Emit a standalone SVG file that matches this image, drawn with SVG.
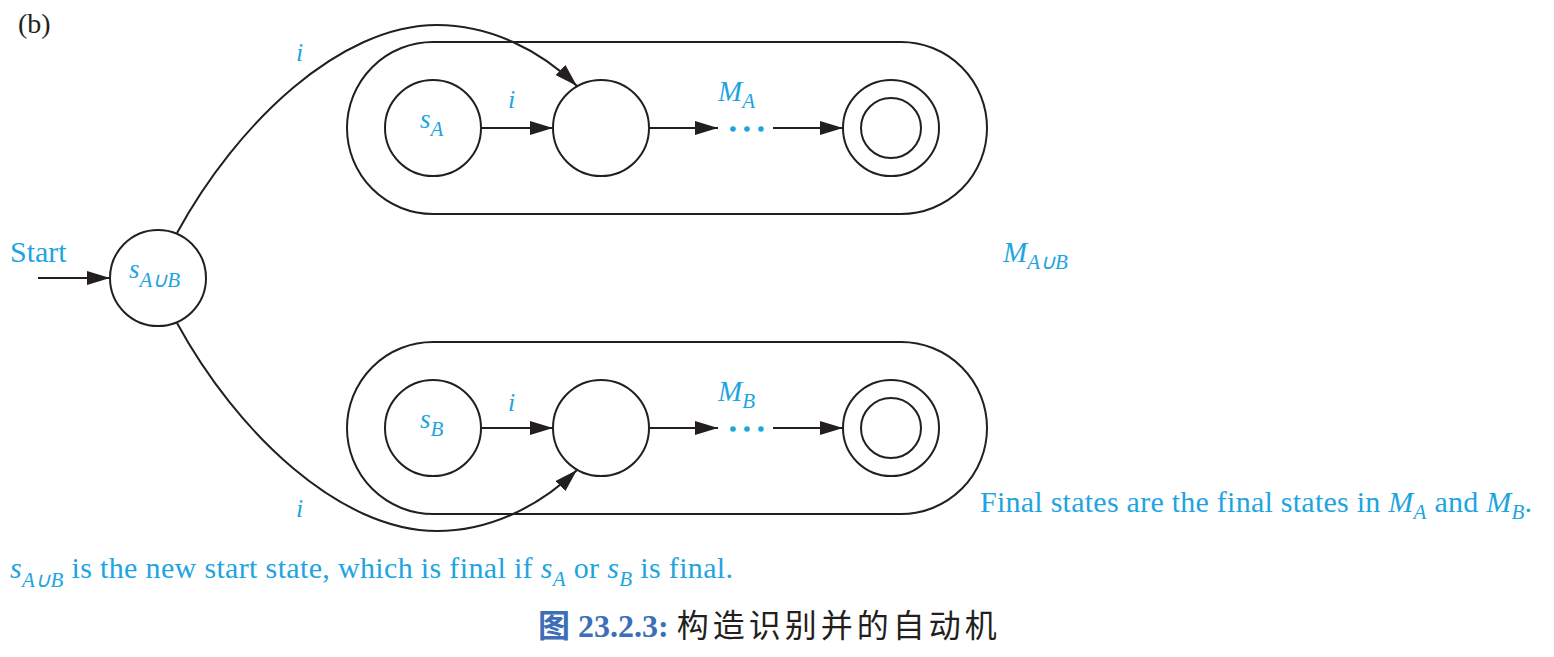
<svg xmlns="http://www.w3.org/2000/svg" width="1554" height="657" viewBox="0 0 1554 657">
<defs>
<style>
.st{fill:none;stroke:#231f20;stroke-width:2}
.ln{fill:none;stroke:#231f20;stroke-width:2}
.bl{fill:#1ea5e0;font-family:"Liberation Serif",serif}
.it{font-style:italic}
.dot{fill:#1ea5e0}
</style>
<marker id="ah" markerUnits="userSpaceOnUse" markerWidth="25" markerHeight="15" refX="23" refY="7" orient="auto">
<path d="M0,0 L23,7 L0,14 z" fill="#231f20"/>
</marker>
</defs>
<rect width="1554" height="657" fill="#fff"/>
<text x="18" y="33" font-family="Liberation Serif,serif" font-size="28" fill="#231f20">(b)</text>

<g id="pillA"><rect class="st" x="347" y="42" width="640" height="172" rx="86" ry="86"/></g>
<g id="pillB"><rect class="st" x="347" y="342" width="640" height="172" rx="86" ry="86"/></g>

<g id="start">
<circle class="st" cx="158" cy="278" r="48"/>
<text class="bl it" x="129" y="278" font-size="27">s<tspan dy="9" font-size="21">A∪B</tspan></text>
</g>
<g id="sA">
<circle class="st" cx="433" cy="128" r="48"/>
<text class="bl it" x="420" y="128" font-size="27">s<tspan dy="8" font-size="21">A</tspan></text>
</g>
<g id="a2">
<circle class="st" cx="601" cy="128" r="48"/>
</g>
<g id="aF">
<circle class="st" cx="891" cy="128" r="48"/>
<circle class="st" cx="891" cy="128" r="30"/>
</g>
<g id="sB">
<circle class="st" cx="433" cy="428" r="48"/>
<text class="bl it" x="420" y="428" font-size="27">s<tspan dy="8" font-size="21">B</tspan></text>
</g>
<g id="b2">
<circle class="st" cx="601" cy="428" r="48"/>
</g>
<g id="bF">
<circle class="st" cx="891" cy="428" r="48"/>
<circle class="st" cx="891" cy="428" r="30"/>
</g>

<g id="connectors">
<line class="ln" x1="38" y1="278" x2="110" y2="278" marker-end="url(#ah)"/>
<path class="ln" d="M177,233 C237,123 340,25 437,25 C490,25 540,50 577,86" marker-end="url(#ah)"/>
<path class="ln" d="M177,323 C237,433 340,531 437,531 C490,531 540,506 577,470" marker-end="url(#ah)"/>
<line class="ln" x1="481" y1="128" x2="553" y2="128" marker-end="url(#ah)"/>
<line class="ln" x1="649" y1="128" x2="718" y2="128" marker-end="url(#ah)"/>
<line class="ln" x1="773" y1="128" x2="843" y2="128" marker-end="url(#ah)"/>
<line class="ln" x1="481" y1="428" x2="553" y2="428" marker-end="url(#ah)"/>
<line class="ln" x1="649" y1="428" x2="718" y2="428" marker-end="url(#ah)"/>
<line class="ln" x1="773" y1="428" x2="843" y2="428" marker-end="url(#ah)"/>
</g>

<g id="dots">
<circle class="dot" cx="733" cy="129" r="2.8"/>
<circle class="dot" cx="747" cy="129" r="2.8"/>
<circle class="dot" cx="761" cy="129" r="2.8"/>
<circle class="dot" cx="733" cy="429" r="2.8"/>
<circle class="dot" cx="747" cy="429" r="2.8"/>
<circle class="dot" cx="761" cy="429" r="2.8"/>
</g>

<g id="labels">
<text class="bl" x="10" y="262" font-size="30">Start</text>
<text class="bl it" x="296" y="61" font-size="26">i</text>
<text class="bl it" x="296" y="517" font-size="26">i</text>
<text class="bl it" x="508" y="108" font-size="26">i</text>
<text class="bl it" x="508" y="411" font-size="26">i</text>
<text class="bl it" x="718" y="101" font-size="29">M<tspan dy="7" font-size="21">A</tspan></text>
<text class="bl it" x="718" y="401" font-size="29">M<tspan dy="7" font-size="21">B</tspan></text>
<text class="bl it" x="1003" y="262" font-size="29">M<tspan dy="7" font-size="21">A∪B</tspan></text>
<text class="bl" x="980" y="512" font-size="30" textLength="552" lengthAdjust="spacing">Final states are the final states in <tspan class="it">M</tspan><tspan class="it" dy="7" font-size="21">A</tspan><tspan dy="-7"> and </tspan><tspan class="it">M</tspan><tspan class="it" dy="7" font-size="21">B</tspan><tspan dy="-7">.</tspan></text>
<text class="bl" x="10" y="578" font-size="30" textLength="723" lengthAdjust="spacing"><tspan class="it">s</tspan><tspan class="it" dy="9" font-size="21">A∪B</tspan><tspan dy="-9"> is the new start state, which is final if </tspan><tspan class="it">s</tspan><tspan class="it" dy="8" font-size="21">A</tspan><tspan dy="-8"> or </tspan><tspan class="it">s</tspan><tspan class="it" dy="8" font-size="21">B</tspan><tspan dy="-8"> is final.</tspan></text>
<text x="538" y="637" font-size="32" font-family="Liberation Serif,'Noto Sans CJK SC',serif"><tspan fill="#3d6eb8" font-weight="bold" font-family="'Noto Sans CJK SC',sans-serif">图</tspan><tspan fill="#3d6eb8" font-weight="bold"> 23.2.3: </tspan><tspan fill="#231f20" font-family="'Noto Sans CJK SC',sans-serif" letter-spacing="4">构造识别并的自动机</tspan></text>
</g>
</svg>
